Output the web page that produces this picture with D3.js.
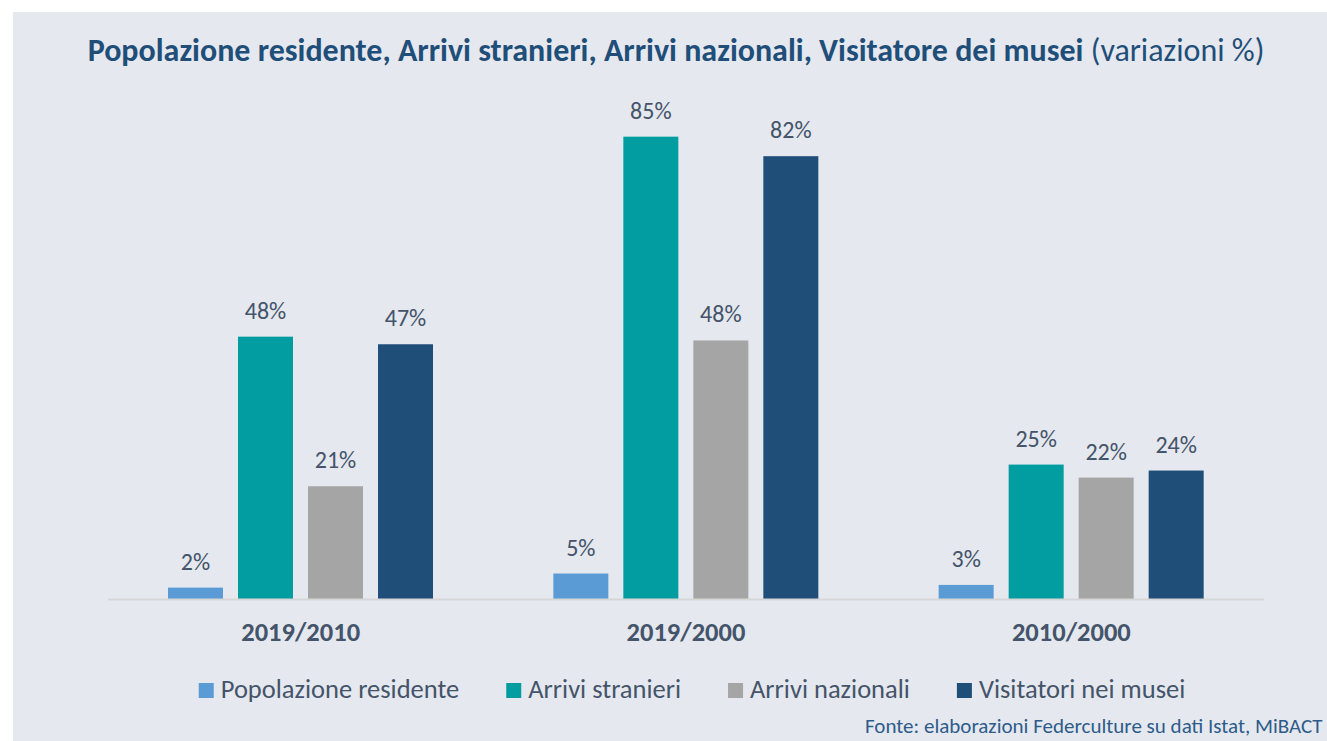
<!DOCTYPE html>
<html lang="it">
<head>
<meta charset="utf-8">
<title>Popolazione residente, Arrivi stranieri, Arrivi nazionali, Visitatore dei musei</title>
<script src="https://cdn.jsdelivr.net/npm/d3@7"></script>
<style>
  body { margin: 0; background: #ffffff; }
  svg { display: block; }
  text { font-family: Carlito, "Open Sans", "Noto Sans", sans-serif; }
</style>
</head>
<body>
<script>
// dati (variazioni %)
var categorie = ["2019/2010", "2019/2000", "2010/2000"];
var serie = ["Popolazione residente", "Arrivi stranieri", "Arrivi nazionali", "Visitatori nei musei"];
var popolazione = [2.1, 4.7, 2.6];
var stranieri = [48.4, 85.3, 24.8];
var nazionali = [20.8, 47.7, 22.4];
var visitatori = [47.0, 81.7, 23.7];
var colori = ["#5b9bd5", "#019da0", "#a5a5a5", "#1f4e79"];

var valori = [popolazione, stranieri, nazionali, visitatori];

var W = 1327, H = 741;
var svg = d3.select("body").append("svg")
  .attr("width", W)
  .attr("height", H);

// fondo
svg.append("rect")
  .attr("x", 13).attr("y", 12)
  .attr("width", W - 13).attr("height", H - 12)
  .attr("fill", "#e5e8ee");

// titolo
var titolo = svg.append("text")
  .attr("x", 676).attr("y", 61)
  .attr("text-anchor", "middle")
  .attr("fill", "#1f4e79")
  .style("font-size", "22px");
titolo.append("tspan").attr("font-weight", "bold")
  .text("Popolazione residente, Arrivi stranieri, Arrivi nazionali, Visitatore dei musei");
titolo.append("tspan").text(" (variazioni %)");

// adatta la larghezza del titolo
var tw = titolo.node().getComputedTextLength();
titolo.style("font-size", (22 * 1177 / tw) + "px");

// scale
var x0 = d3.scaleBand().domain(categorie).range([108, 1264]);
var x1 = d3.scaleBand().domain(serie).range([60, 325]).paddingInner(15 / 70).paddingOuter(0);
var y = d3.scaleLinear().domain([0, 100]).range([599, 57]);

// dati piatti
var dati = [];
categorie.forEach(function(c, i) {
  serie.forEach(function(s, j) {
    dati.push({ cat: c, serie: s, v: valori[j][i], col: colori[j] });
  });
});

// barre
svg.selectAll("rect.bar")
  .data(dati)
  .enter()
  .append("rect")
  .attr("class", "bar")
  .attr("x", function(d) { return x0(d.cat) + x1(d.serie); })
  .attr("y", function(d) { return y(d.v); })
  .attr("width", x1.bandwidth())
  .attr("height", function(d) { return y(0) - y(d.v); })
  .attr("fill", function(d) { return d.col; });

// asse
svg.append("line")
  .attr("x1", x0.range()[0]).attr("x2", x0.range()[1])
  .attr("y1", y(0) + 0.5).attr("y2", y(0) + 0.5)
  .attr("stroke", "#d6d6d6")
  .attr("stroke-width", 2);

// etichette valori
svg.selectAll("text.val")
  .data(dati)
  .enter()
  .append("text")
  .attr("class", "val")
  .attr("x", function(d) { return x0(d.cat) + x1(d.serie) + x1.bandwidth() / 2; })
  .attr("y", function(d) { return y(d.v) - 18; })
  .attr("text-anchor", "middle")
  .attr("fill", "#44546a")
  .style("font-size", "24px")
  .text(function(d) { return Math.round(d.v) + "%"; });

// etichette categorie
svg.selectAll("text.cat")
  .data(categorie)
  .enter()
  .append("text")
  .attr("class", "cat")
  .attr("x", function(d) { return x0(d) + x0.bandwidth() / 2; })
  .attr("y", 641)
  .attr("text-anchor", "middle")
  .attr("fill", "#44546a")
  .attr("font-weight", "bold")
  .style("font-size", "26.5px")
  .text(function(d) { return d; });

// legenda
var leg = svg.append("g");
var lx = 0;
serie.forEach(function(s, j) {
  var g = leg.append("g").attr("transform", "translate(" + lx + ",0)");
  g.append("rect")
    .attr("x", 0).attr("y", 683)
    .attr("width", 15).attr("height", 15)
    .attr("fill", colori[j]);
  var t = g.append("text")
    .attr("x", 22).attr("y", 698)
    .attr("fill", "#44546a")
    .style("font-size", "26.5px")
    .text(s);
  lx += 22 + t.node().getComputedTextLength() + 47;
});
var lw = lx - 47;
leg.attr("transform", "translate(" + (692 - lw / 2) + ",0)");

// fonte (ridotta per restare dentro il bordo)
var fonte = svg.append("text")
  .attr("x", 865).attr("y", 733)
  .attr("fill", "#2e5c8a")
  .style("font-size", "21.5px")
  .text("Fonte: elaborazioni Federculture su dati Istat, MiBACT");
var fw = fonte.node().getComputedTextLength();
if (fw > W - 869) fonte.style("font-size", (21.5 * (W - 869) / fw) + "px");
</script>
</body>
</html>
